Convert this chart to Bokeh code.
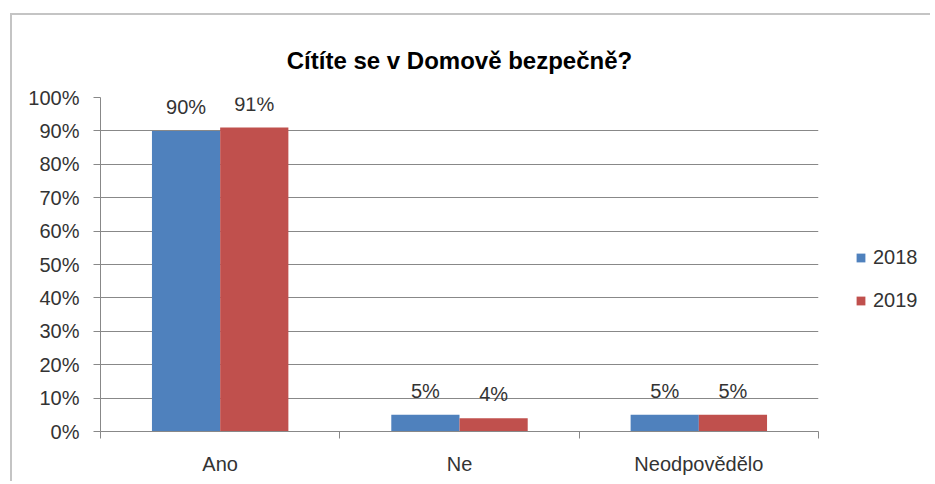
from bokeh.plotting import figure
from bokeh.layouts import row
from bokeh.models import (ColumnDataSource, FactorRange, Range1d, LinearAxis, CategoricalAxis,
                          FixedTicker, NumeralTickFormatter, Legend, LegendItem, LabelSet, Title,
                          Grid)
from bokeh.core.properties import value
from bokeh.transform import dodge
from bokeh.embed import file_html
from bokeh.resources import INLINE

categories = ["Ano", "Ne", "Neodpovědělo"]
years = ["2018", "2019"]
values_2018 = [0.90, 0.05, 0.05]
values_2019 = [0.91, 0.04, 0.05]
labels_2018 = ["90%", "5%", "5%"]
labels_2019 = ["91%", "4%", "5%"]
y_ticks = [0.0, 0.1, 0.2, 0.3, 0.4, 0.5, 0.6, 0.7, 0.8, 0.9, 1.0]
colors = ["#4F81BD", "#C0504D"]

FONT = "Liberation Sans"
TXT = "#333333"
GRID = "#888888"

src = ColumnDataSource(dict(cat=categories, v18=values_2018, v19=values_2019,
                            l18=labels_2018, l19=labels_2019))

xr = FactorRange(*categories, range_padding=0)
yr = Range1d(0, 1)

p = figure(width=810, height=466, output_backend="svg", toolbar_location=None,
           x_range=xr, y_range=yr, x_axis_type=None, y_axis_type=None,
           min_border_left=88, min_border_right=4, min_border_top=82, min_border_bottom=50)
p.outline_line_color = None
p.background_fill_color = "white"
p.border_fill_color = "white"

bw = 0.285
r18 = p.vbar(x=dodge("cat", -bw / 2, range=xr), top="v18", width=bw, source=src,
             fill_color=colors[0], line_color=None)
r19 = p.vbar(x=dodge("cat", bw / 2, range=xr), top="v19", width=bw, source=src,
             fill_color=colors[1], line_color=None)

for col, lab, off in (("v18", "l18", -bw / 2), ("v19", "l19", bw / 2)):
    ls = LabelSet(x=dodge("cat", off, range=xr), y=col, text=lab, source=src,
                  text_align="center", text_baseline="alphabetic", y_offset=17,
                  text_font=value(FONT), text_font_size="20px", text_color=TXT)
    p.add_layout(ls)

# y axis
yax = LinearAxis(ticker=FixedTicker(ticks=y_ticks), formatter=NumeralTickFormatter(format="0%"))
yax.axis_line_color = GRID
yax.major_tick_line_color = GRID
yax.major_tick_out = 7
yax.major_tick_in = 0
yax.minor_tick_line_color = None
yax.major_label_text_font = FONT
yax.major_label_text_font_size = "20px"
yax.major_label_text_color = TXT
yax.major_label_standoff = 14
p.add_layout(yax, "left")

# x axis tick marks at category boundaries (synthetic coordinates of the factor range)
eax = LinearAxis(ticker=FixedTicker(ticks=[0, 1, 2, 3]),
                 major_label_overrides={0: "", 1: "", 2: "", 3: ""})
eax.axis_line_color = GRID
eax.major_tick_line_color = GRID
eax.major_tick_out = 7
eax.major_tick_in = 0
eax.minor_tick_line_color = None
eax.major_label_text_font_size = "1px"
eax.major_label_standoff = 0
p.add_layout(eax, "below")

cax = CategoricalAxis()
cax.axis_line_color = None
cax.major_tick_line_color = None
cax.major_label_text_font = FONT
cax.major_label_text_font_size = "20px"
cax.major_label_text_color = TXT
cax.major_label_standoff = 8
p.add_layout(cax, "below")

p.add_layout(Grid(dimension=1, ticker=yax.ticker, grid_line_color=GRID, grid_line_width=1))

title = Title(text="Cítíte se v Domově bezpečně?", align="center", offset=20,
              text_font=FONT, text_font_style="bold", text_font_size="24px",
              text_color="#000000", standoff=47)
p.add_layout(title, "above")

# legend panel (shares the ranges; its bar renderers are hidden, used only for swatches)
lp = figure(width=108, height=466, output_backend="svg", toolbar_location=None,
            x_range=xr, y_range=yr, x_axis_type=None, y_axis_type=None,
            min_border_left=0, min_border_right=0, min_border_top=0, min_border_bottom=0)
lp.outline_line_color = None
lp.background_fill_color = "white"
lp.border_fill_color = "white"
s18 = lp.vbar(x=dodge("cat", -bw / 2, range=xr), top="v18", width=bw, source=src,
              fill_color=colors[0], line_color=None, visible=False)
s19 = lp.vbar(x=dodge("cat", bw / 2, range=xr), top="v19", width=bw, source=src,
              fill_color=colors[1], line_color=None, visible=False)
legend = Legend(items=[LegendItem(label=years[0], renderers=[s18]),
                       LegendItem(label=years[1], renderers=[s19])],
                location=(33, 119), padding=0, margin=0, spacing=20,
                glyph_width=11, glyph_height=11, label_height=20, label_standoff=7,
                label_text_font=FONT, label_text_font_size="20px", label_text_color=TXT,
                inactive_fill_alpha=0,
                border_line_color=None, background_fill_alpha=0)
lp.add_layout(legend, "center")

layout = row(p, lp)
layout.margin = (13, 0, 0, 10)
layout.styles = {"border-top": "2px solid #c4c4c4", "border-left": "2px solid #c4c4c4",
                 "gap": "0px"}

open("out.html", "w").write(file_html(layout, INLINE))
